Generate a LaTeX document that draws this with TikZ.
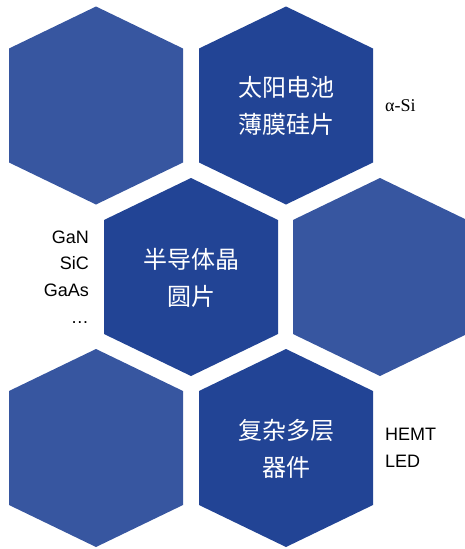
\documentclass[tikz,border=0pt]{standalone}
\usepackage{fontspec}
\setmainfont{Liberation Sans}
\newfontfamily\cjkfont{Noto Sans CJK SC}
\newfontfamily\timesfont{Liberation Serif}
\definecolor{hexlightc}{HTML}{3756A0}
\definecolor{hexdarkc}{HTML}{224495}
\begin{document}
\begin{tikzpicture}[x=1pt,y=-1pt,
  hexlight/.style={fill=hexlightc},
  hexdark/.style={fill=hexdarkc},
  hextext/.style={text=white,align=center,inner sep=0pt,font=\cjkfont\fontsize{24}{37}\selectfont},
  sidelabel/.style={text=black,inner sep=0pt,font=\fontsize{18}{26.6}\selectfont}]
\useasboundingbox (0,0) rectangle (464,549);
\foreach \cx/\cy/\st in {96/105.5/hexlight, 286/105.5/hexdark, 191/277/hexdark, 380/277/hexlight, 96/448/hexlight, 286/448/hexdark}{
  \path[\st] (\cx,\cy-99) -- (\cx+87,\cy-57) -- (\cx+87,\cy+57) -- (\cx,\cy+99) -- (\cx-87,\cy+57) -- (\cx-87,\cy-57) -- cycle;
}
\node[hextext] (solar) at (286,106) {太阳电池\\薄膜硅片};
\node[hextext] (wafer) at (191,277.5) {半导体晶\\圆片};
\node[hextext] (device) at (286,448.5) {复杂多层\\器件};
\node[sidelabel,anchor=west,font=\timesfont\fontsize{18}{22}\selectfont] (asi) at (385,106) {α-Si};
\node[sidelabel,anchor=east,align=right] (mat) at (89,277) {GaN\\SiC\\GaAs\\…};
\node[sidelabel,anchor=west,align=left] (hemt) at (385,448) {HEMT\\LED};
\end{tikzpicture}
\end{document}
